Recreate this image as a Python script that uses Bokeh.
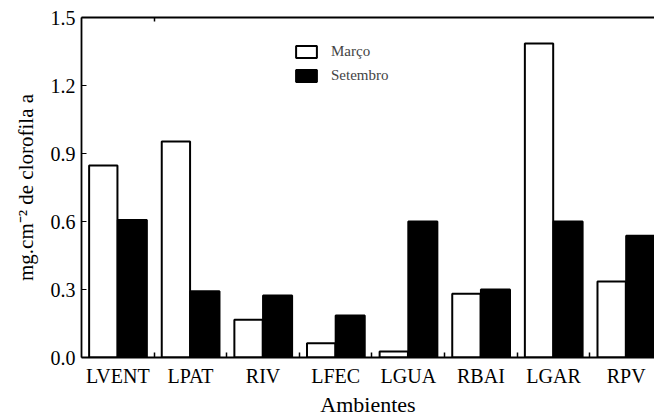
from bokeh.plotting import figure
from bokeh.models import (ColumnDataSource, FixedTicker, Range1d, Legend, LegendItem,
                          LinearAxis)
from bokeh.embed import file_html
from bokeh.resources import INLINE

categorias = ["LVENT", "LPAT", "RIV", "LFEC", "LGUA", "RBAI", "LGAR", "RPV"]
marco = [0.847, 0.953, 0.166, 0.063, 0.026, 0.281, 1.385, 0.335]
setembro = [0.607, 0.292, 0.273, 0.185, 0.600, 0.300, 0.600, 0.537]
y_ticks = [0.0, 0.3, 0.6, 0.9, 1.2, 1.5]

FONT = "Liberation Serif"

idx = list(range(len(categorias)))
src = ColumnDataSource(dict(
    x_m=[i + 0.3 for i in idx],
    x_s=[i + 0.7 for i in idx],
    marco=marco,
    setembro=setembro,
))

p = figure(width=654, height=419, output_backend="svg", toolbar_location=None,
           x_range=Range1d(0, 7.89), y_range=Range1d(0, 1.5),
           min_border_left=81, min_border_top=17, min_border_right=0, min_border_bottom=62)

r1 = p.vbar(x="x_m", top="marco", width=0.39, source=src, fill_color="white",
            line_color="black", line_width=2)
r2 = p.vbar(x="x_s", top="setembro", width=0.4, source=src, fill_color="black",
            line_color="black", line_width=2)

p.grid.visible = False
p.outline_line_color = None
p.background_fill_color = "white"
p.border_fill_color = "white"

# x axis: labels at group centres, ticks at group boundaries
p.xaxis.ticker = FixedTicker(ticks=[i + 0.5 for i in idx],
                             minor_ticks=[i for i in range(1, len(categorias))])
p.xaxis.major_label_overrides = {i + 0.5: c for i, c in enumerate(categorias)}
p.xaxis.major_tick_in = 0
p.xaxis.major_tick_out = 0
p.xaxis.minor_tick_in = 5
p.xaxis.minor_tick_out = 0
p.xaxis.minor_tick_line_width = 1.5
p.xaxis.axis_line_width = 1.8
p.xaxis.major_label_standoff = 7
p.xaxis.axis_label = "Ambientes"
p.xaxis.axis_label_standoff = 2
p.xaxis.axis_label_text_font_size = "22px"

# top frame line with inward ticks
top = LinearAxis(ticker=FixedTicker(ticks=[], minor_ticks=[1]),
                 major_label_text_font_size="0px", major_label_standoff=0,
                 major_tick_in=0, major_tick_out=0, minor_tick_in=4, minor_tick_out=0,
                 minor_tick_line_width=1.5, axis_line_width=1.8, axis_line_color="black")
p.add_layout(top, "above")

p.yaxis.ticker = FixedTicker(ticks=y_ticks)
p.yaxis.major_label_overrides = {t: f"{t:.1f}" for t in y_ticks}
p.yaxis.major_tick_in = 5
p.yaxis.major_tick_out = 0
p.yaxis.minor_tick_line_color = None
p.yaxis.axis_line_width = 1.8
p.yaxis.axis_label = "mg.cm\u207b\u00b2 de clorofila a"
p.yaxis.major_label_standoff = 6
p.yaxis.axis_label_standoff = 10
p.yaxis.axis_label_text_font_size = "21px"

for ax in (p.xaxis, p.yaxis):
    ax.major_label_text_font = FONT
    ax.major_label_text_font_size = "20px"
    ax.major_label_text_color = "black"
    ax.axis_label_text_font = FONT
    ax.axis_label_text_font_style = "normal"
    ax.axis_label_text_color = "black"
    ax.axis_line_color = "black"
    ax.major_tick_line_color = "black"

legend = Legend(items=[LegendItem(label="Março", renderers=[r1]),
                       LegendItem(label="Setembro", renderers=[r2])],
                location=(212, 273), border_line_color=None,
                background_fill_alpha=0, label_text_font=FONT,
                label_text_font_size="15px", glyph_width=26, glyph_height=15,
                spacing=7, label_standoff=12, padding=4)
p.add_layout(legend)

open("out.html", "w").write(file_html(p, INLINE))
